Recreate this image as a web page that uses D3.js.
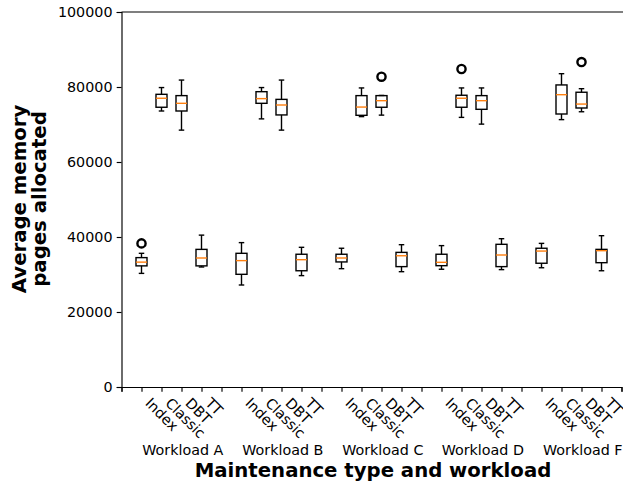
<!DOCTYPE html>
<html>
<head>
<meta charset="utf-8">
<script src="https://cdn.jsdelivr.net/npm/d3@7"></script>
<style>
  html, body { margin: 0; padding: 0; background: #fff; }
  svg { display: block; }
  text { font-family: "DejaVu Sans", sans-serif; fill: #000; }
</style>
</head>
<body>
<div id="chart"></div>
<script>
// ---- data ----
const workloads = ["Workload A", "Workload B", "Workload C", "Workload D", "Workload F"];
const types = ["Index", "Classic", "DBT", "TT"];
const yTicks = [0, 20000, 40000, 60000, 80000, 100000];

// five-number summaries per box, in order A(Index,Classic,DBT,TT), B(...), C, D, F
const whiskerLow  = [30300, 73600, 68500, 32000,  27200, 71500, 68500, 29700,  31550, 72100, 72500, 30750,  31400, 71900, 70100, 31300,  31800, 71300, 73400, 31000];
const q1          = [32300, 74600, 73600, 32300,  30050, 75650, 72550, 31000,  33350, 72450, 74600, 32100,  32350, 74600, 74050, 32100,  33000, 72800, 74400, 33150];
const medians     = [33300, 77000, 75650, 34400,  33700, 76900, 75200, 33950,  34400, 74650, 76350, 35000,  33250, 77000, 76350, 35200,  36250, 77950, 75450, 36350];
const q3          = [34500, 78050, 77700, 36700,  35650, 78750, 76700, 35400,  35400, 77700, 77700, 35900,  35400, 77800, 77700, 38050,  37000, 80550, 78600, 36700];
const whiskerHigh = [35650, 79850, 81850, 40500,  38500, 79850, 81850, 37250,  37000, 79750, 77750, 37950,  37700, 79750, 79750, 39550,  38300, 83550, 79550, 40350];
const outliers    = [[38300], [], [], [],  [], [], [], [],  [], [], [82750], [],  [], [84800], [], [],  [], [], [86650], []];

// ---- layout ----
const W = 623, H = 484;
const svg = d3.select("#chart").append("svg").attr("width", W).attr("height", H);

const x = d3.scaleLinear().domain([0, 25]).range([121.5, 621.5]);
const y = d3.scaleLinear().domain([0, 100000]).range([387, 12]);

// positions: group g, type t -> 5*g + t + 1
const boxes = [];
workloads.forEach((w, g) => {
  types.forEach((t, k) => {
    const i = g * 4 + k;
    boxes.push({
      pos: g * 5 + k + 1, type: t, workload: w,
      lo: whiskerLow[i], q1: q1[i], med: medians[i], q3: q3[i], hi: whiskerHigh[i], out: outliers[i]
    });
  });
});

const fs = 14.3;
const lw = 1.15;

// ---- axes ----
const yAxis = d3.axisLeft(y).tickValues(yTicks).tickSize(4.8).tickPadding(4.2).tickFormat(d3.format("d"));
const gy = svg.append("g").attr("transform", `translate(${x(0)},0)`).call(yAxis);
gy.select(".domain").attr("stroke", "#000").attr("stroke-width", lw);
gy.selectAll(".tick line").attr("stroke", "#000").attr("stroke-width", lw);
gy.selectAll(".tick text").attr("font-size", fs + "px").attr("font-family", "DejaVu Sans").attr("fill", "#000");

const xTickVals = d3.range(0, 26);
const labelFor = p => (p % 5 === 0 ? "" : types[(p % 5) - 1]);
const xAxis = d3.axisBottom(x).tickValues(xTickVals).tickSize(4.8).tickFormat(() => "");
const gx = svg.append("g").attr("transform", `translate(0,${y(0)})`).call(xAxis);
gx.select(".domain").attr("stroke", "#000").attr("stroke-width", lw);
gx.selectAll(".tick line").attr("stroke", "#000").attr("stroke-width", lw);

// top spine
svg.append("line").attr("x1", x(0)).attr("x2", W).attr("y1", y(100000)).attr("y2", y(100000))
  .attr("stroke", "#000").attr("stroke-width", lw);

// rotated type labels
svg.append("g").selectAll("text").data(xTickVals.filter(p => labelFor(p) !== ""))
  .join("text")
  .attr("font-size", fs + "px")
  .attr("transform", p => `translate(${x(p) + 0.236 * fs * 0.707 + 0.5},${y(0) + 4.8 + 4.6 + 0.76 * fs * 0.707}) rotate(45)`)
  .text(p => labelFor(p));

// workload labels
svg.append("g").selectAll("text").data(workloads).join("text")
  .attr("font-size", fs + "px")
  .attr("text-anchor", "middle")
  .attr("x", (w, g) => x(g * 5 + 3) + 1.3)
  .attr("y", 455)
  .text(w => w);

// axis titles
svg.append("text").attr("font-size", "19.7px").attr("font-weight", "bold")
  .attr("text-anchor", "middle").attr("x", 373).attr("y", 477)
  .text("Maintenance type and workload");

const yl = svg.append("text").attr("font-size", "19.7px").attr("font-weight", "bold")
  .attr("text-anchor", "middle").attr("transform", "translate(25.5,199) rotate(-90)");
yl.append("tspan").attr("x", 0).attr("dy", "0").text("Average memory");
yl.append("tspan").attr("x", 0).attr("dy", "1.03em").text("pages allocated");

// ---- boxes ----
const bw = 11, cw = 5.5, bs = 1.4;
const gb = svg.append("g");
boxes.forEach(b => {
  const cx = x(b.pos);
  const g = gb.append("g");
  // whiskers
  g.append("line").attr("x1", cx).attr("x2", cx).attr("y1", y(b.q1)).attr("y2", y(b.lo)).attr("stroke", "#000").attr("stroke-width", bs);
  g.append("line").attr("x1", cx).attr("x2", cx).attr("y1", y(b.q3)).attr("y2", y(b.hi)).attr("stroke", "#000").attr("stroke-width", bs);
  // caps
  g.append("line").attr("x1", cx - cw / 2).attr("x2", cx + cw / 2).attr("y1", y(b.lo)).attr("y2", y(b.lo)).attr("stroke", "#000").attr("stroke-width", bs);
  g.append("line").attr("x1", cx - cw / 2).attr("x2", cx + cw / 2).attr("y1", y(b.hi)).attr("y2", y(b.hi)).attr("stroke", "#000").attr("stroke-width", bs);
  // box
  g.append("rect").attr("x", cx - bw / 2).attr("width", bw)
    .attr("y", y(b.q3)).attr("height", y(b.q1) - y(b.q3))
    .attr("fill", "none").attr("stroke", "#000").attr("stroke-width", bs);
  // median
  g.append("line").attr("x1", cx - bw / 2).attr("x2", cx + bw / 2).attr("y1", y(b.med)).attr("y2", y(b.med))
    .attr("stroke", "#ff7f0e").attr("stroke-width", 1.4);
  // outliers
  b.out.forEach(v => {
    g.append("circle").attr("cx", cx).attr("cy", y(v)).attr("r", 4.1)
      .attr("fill", "none").attr("stroke", "#000").attr("stroke-width", 2.4);
  });
});
</script>
</body>
</html>
